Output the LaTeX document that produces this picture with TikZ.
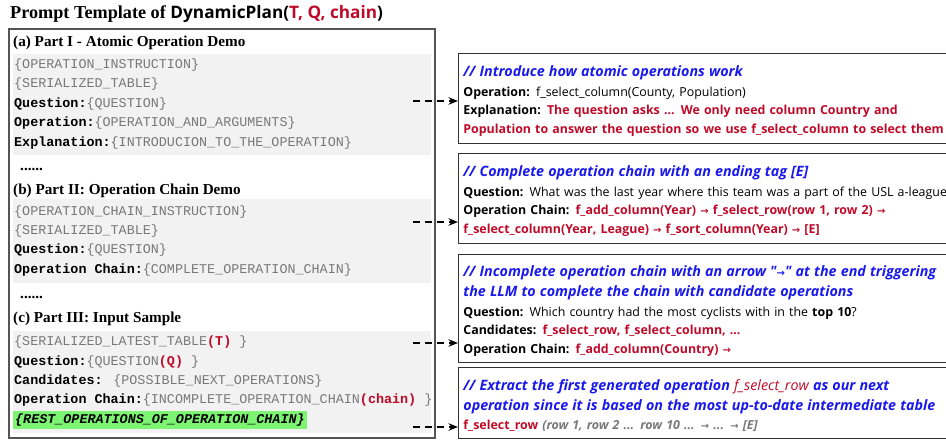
\documentclass[tikz,border=0pt]{standalone}
\usepackage{fontspec}
\setmainfont{Liberation Serif}
\newfontfamily\monof{Liberation Mono}
\newfontfamily\sansf{Open Sans}
\newfontfamily\arrowf{DejaVu Sans}
\usetikzlibrary{arrows.meta}

\definecolor{promptred}{RGB}{190,10,40}
\definecolor{noteblue}{RGB}{25,25,235}
\definecolor{codegray}{RGB}{120,120,120}
\definecolor{panelgray}{RGB}{242,242,242}
\definecolor{hlgreen}{RGB}{125,245,115}
\definecolor{framegray}{RGB}{85,85,85}

\newcommand{\lbl}[1]{{\bfseries\color{black}#1}}
\newcommand{\rv}[1]{{\bfseries\color{promptred}#1}}
\newcommand{\cmt}[1]{{\fontsize{14.3}{19}\selectfont\bfseries\itshape\color{noteblue}#1}}
\newcommand{\rarr}{{\arrowf\fontsize{10}{10}\selectfont →}}
\newcommand{\topgap}{\rule{0pt}{16.5pt}}

\begin{document}
\begin{tikzpicture}[
    x=1pt, y=-1pt,
    % Define styles
    heading/.style={anchor=west, inner sep=0pt, font=\fontsize{15.2}{17}\selectfont\bfseries},
    codeline/.style={anchor=west, inner sep=0pt, text=codegray, font=\fontsize{13.4}{15}\monof},
    panel/.style={fill=panelgray, anchor=north west, inner sep=0pt, minimum width=418pt},
    notebox/.style={draw=black!80, line width=0.8pt, anchor=north west, text width=520pt, inner xsep=5pt, inner ysep=0pt, align=left, font=\fontsize{12.4}{18.6}\sansf},
    flow/.style={dash pattern=on 7pt off 5pt, line width=1.4pt, -{Stealth[length=9.5pt, width=7.5pt]}}
]
\useasboundingbox (0,0) rectangle (946,441);
\clip (0,0) rectangle (946,441);

% Title
\node[anchor=west, inner sep=0pt, font=\fontsize{18.2}{22}\selectfont\bfseries] (title) at (10,14)
  {Prompt Template of {\sansf\fontsize{17.2}{22}\selectfont DynamicPlan(\textcolor{promptred}{T, Q, chain})}};

% Outer frame
\draw[framegray, line width=1.2pt] (9,29) rectangle (435,438);

% Gray panels
\node[panel, minimum height=101pt] (panelA) at (13,54) {};
\node[panel, minimum height=84pt] (panelB) at (13,199) {};
\node[panel, minimum height=102pt] (panelC) at (13,331) {};

% Part I
\node[heading] (headA) at (13,43) {(a) Part I - Atomic Operation Demo};
\node[codeline] (instrA) at (14,65) {\{OPERATION\_INSTRUCTION\}};
\node[codeline] (tableA) at (14,84) {\{SERIALIZED\_TABLE\}};
\node[codeline] (questA) at (14,104) {\lbl{Question:}\{QUESTION\}};
\node[codeline] (operA) at (14,123) {\lbl{Operation:}\{OPERATION\_AND\_ARGUMENTS\}};
\node[codeline] (explA) at (14,143) {\lbl{Explanation:}\{INTRODUCION\_TO\_THE\_OPERATION\}};
\node[heading] (dotsA) at (20,169) {......};

% Part II
\node[heading] (headB) at (13,191) {(b) Part II: Operation Chain Demo};
\node[codeline] (instrB) at (14,212) {\{OPERATION\_CHAIN\_INSTRUCTION\}};
\node[codeline] (tableB) at (14,231) {\{SERIALIZED\_TABLE\}};
\node[codeline] (questB) at (14,250) {\lbl{Question:}\{QUESTION\}};
\node[codeline] (chainB) at (14,270) {\lbl{Operation Chain:}\{COMPLETE\_OPERATION\_CHAIN\}};
\node[heading] (dotsB) at (20,297) {......};

% Part III
\node[heading] (headC) at (13,319) {(c) Part III: Input Sample};
\node[codeline] (tableC) at (14,342) {\{SERIALIZED\_LATEST\_TABLE\rv{(T)} \}};
\node[codeline] (questC) at (14,362) {\lbl{Question:}\{QUESTION\rv{(Q)} \}};
\node[codeline] (candC) at (14,381) {\lbl{Candidates:} \{POSSIBLE\_NEXT\_OPERATIONS\}};
\node[codeline] (chainC) at (14,400) {\lbl{Operation Chain:}\{INCOMPLETE\_OPERATION\_CHAIN\rv{(chain)} \}};
\node[codeline, fill=hlgreen, inner xsep=2pt, inner ysep=2.5pt, text=black, font=\fontsize{13.4}{15}\monof\bfseries\itshape] (restC) at (13,420)
  {\{REST\_OPERATIONS\_OF\_OPERATION\_CHAIN\}};

% Note boxes
\node[notebox, minimum height=90pt] (noteA) at (458,53) {%
  \topgap\cmt{// Introduce how atomic operations work}\\[1pt]
  \lbl{Operation:} f\_select\_column(County, Population)\\
  \lbl{Explanation:} \rv{The question asks ... We only need column Country and}\\
  \rv{Population to answer the question so we use f\_select\_column to select them}};
\node[notebox, minimum height=90pt] (noteB) at (458,153) {%
  \topgap\cmt{// Complete operation chain with an ending tag [E]}\\[1pt]
  \lbl{Question:} What was the last year where this team was a part of the USL a-league?\\
  \lbl{Operation Chain:} \rv{f\_add\_column(Year) \rarr{} f\_select\_row(row 1, row 2) \rarr}\\
  \rv{f\_select\_column(Year, League) \rarr{} f\_sort\_column(Year) \rarr{} [E]}};
\node[notebox, minimum height=108pt] (noteC) at (458,254) {%
  \topgap\cmt{// Incomplete operation chain with an arrow "\rarr" at the end triggering}\\[1pt]
  \cmt{the LLM to complete the chain with candidate operations}\\[1pt]
  \lbl{Question:} Which country had the most cyclists with in the \lbl{top 10}?\\
  \lbl{Candidates:} \rv{f\_select\_row, f\_select\_column, ...}\\
  \lbl{Operation Chain:} \rv{f\_add\_column(Country) \rarr}};
\node[notebox, minimum height=71pt] (noteD) at (458,367) {%
  \topgap\cmt{// Extract the first generated operation {\mdseries\color{promptred}f\_select\_row} as our next}\\[1pt]
  \cmt{operation since it is based on the most up-to-date intermediate table}\\[1pt]
  \rv{f\_select\_row} {\bfseries\itshape\color{codegray}(row 1, row 2 ... row 10 ... \rarr{} ... \rarr{} [E]}};

% Dashed links
\coordinate (srcA) at (413,101);
\coordinate (srcB) at (413,222);
\coordinate (srcC) at (413,343);
\coordinate (srcD) at (413,427);
\draw[flow] (srcA) -- (noteA.west |- srcA);
\draw[flow] (srcB) -- (noteB.west |- srcB);
\draw[flow] (srcC) -- (noteC.west |- srcC);
\draw[flow] (srcD) -- (noteD.west |- srcD);

\end{tikzpicture}
\end{document}
